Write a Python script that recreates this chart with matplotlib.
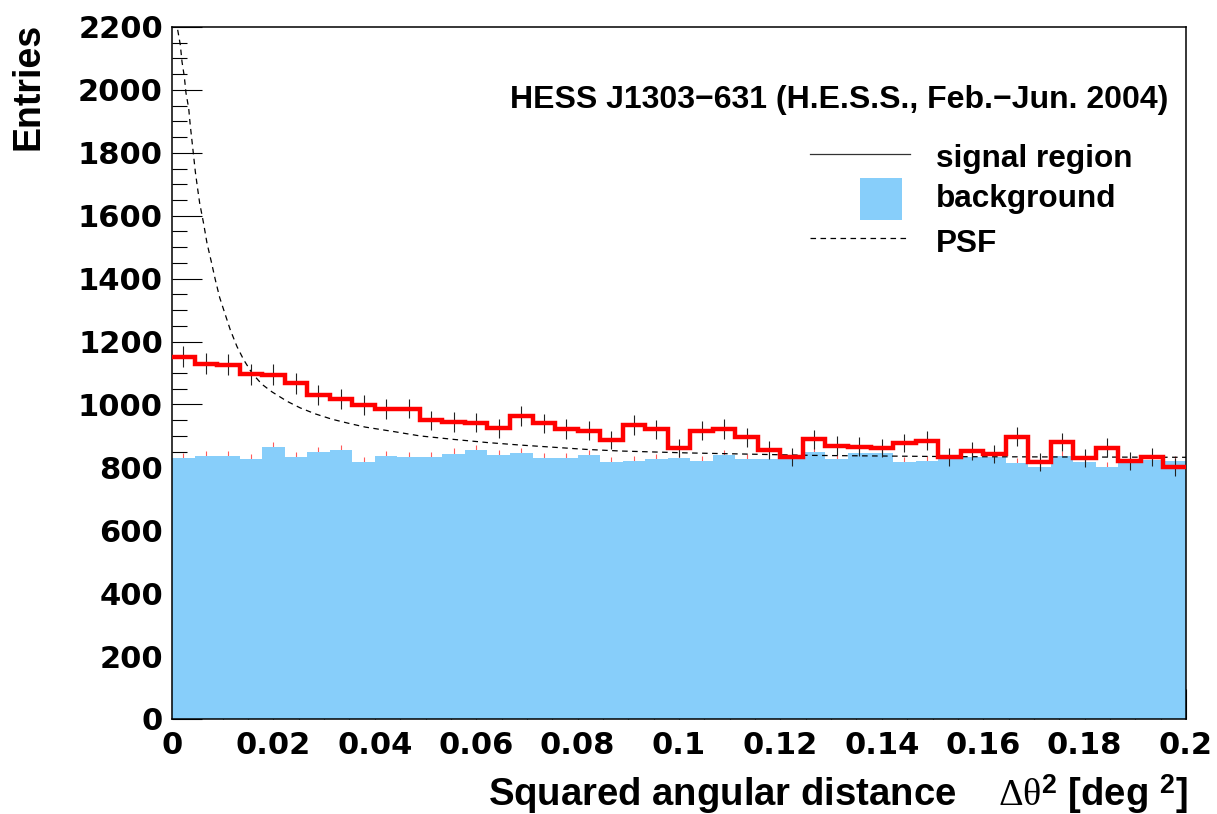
import numpy as np
import matplotlib
matplotlib.use("Agg")
import matplotlib.pyplot as plt
from matplotlib.patches import Rectangle
from matplotlib.lines import Line2D
from matplotlib.ticker import MultipleLocator, FixedLocator

# ---------------- data ----------------
x_min, x_max = 0.0, 0.2
n_bins = 45

signal = [1152, 1129, 1127, 1096, 1095, 1067, 1030, 1018, 998, 985,
          987, 949, 944, 942, 924, 964, 940, 922, 916, 887,
          935, 921, 861, 917, 922, 896, 855, 832, 889, 869,
          866, 861, 877, 885, 834, 852, 843, 898, 818, 881,
          829, 863, 821, 832, 800]

background = [831, 836, 836, 827, 865, 833, 849, 855, 816, 837,
              834, 834, 844, 855, 840, 845, 831, 831, 840, 817,
              819, 828, 829, 821, 839, 827, 826, 832, 850, 827,
              845, 845, 818, 821, 827, 832, 834, 815, 800, 837,
              818, 802, 818, 823, 821]
bkg_alpha = 0.31  # background normalisation (sets error size)

psf_x = [0.00112, 0.00164, 0.00197, 0.00243, 0.00276, 0.00329, 0.00361, 0.00394,
         0.00428, 0.0046, 0.00507, 0.00546, 0.00625, 0.0069, 0.00775, 0.00855,
         0.0094, 0.01052, 0.0115, 0.01282, 0.01414, 0.0158, 0.01775, 0.01972,
         0.0227, 0.0253, 0.02827, 0.03156, 0.03485, 0.03813, 0.04366, 0.0489,
         0.0555, 0.0621, 0.0686, 0.0752, 0.0818, 0.0884, 0.0949, 0.1015,
         0.1265, 0.155, 0.2]
psf_y = [2191, 2143, 2090, 2042, 1990, 1942, 1886, 1838,
         1788, 1740, 1684, 1640, 1574, 1513, 1454, 1396,
         1340, 1285, 1237, 1184, 1142, 1099, 1064, 1040,
         1010, 989, 970, 953, 940, 928, 914, 900,
         889, 879, 871, 864, 857, 852, 849, 846,
         838, 834, 832]

xtick_values = [0.0, 0.02, 0.04, 0.06, 0.08, 0.1, 0.12, 0.14, 0.16, 0.18, 0.2]
xtick_labels = ["0", "0.02", "0.04", "0.06", "0.08", "0.1", "0.12", "0.14",
                "0.16", "0.18", "0.2"]
ytick_values = [0, 200, 400, 600, 800, 1000, 1200, 1400, 1600, 1800, 2000, 2200]

title_text = "HESS J1303\u2212631 (H.E.S.S., Feb.\u2212Jun. 2004)"
legend_labels = ["signal region", "background", "PSF"]

# ---------------- style ----------------
plt.rcParams["font.family"] = ["Liberation Sans", "DejaVu Sans"]
plt.rcParams["font.weight"] = "bold"
plt.rcParams["mathtext.fontset"] = "custom"
plt.rcParams["mathtext.rm"] = "Liberation Serif:normal"
plt.rcParams["mathtext.it"] = "Liberation Serif:italic"
plt.rcParams["mathtext.bf"] = "Liberation Sans:bold"
plt.rcParams["lines.scale_dashes"] = False

W, H = 1217, 814
fig = plt.figure(figsize=(W / 100, H / 100), dpi=100)
ax_l, ax_r, ax_t, ax_b = 172, 1186, 27, 719
ax = fig.add_axes([ax_l / W, 1 - ax_b / H, (ax_r - ax_l) / W, (ax_b - ax_t) / H])

edges = np.linspace(x_min, x_max, n_bins + 1)
centers = 0.5 * (edges[:-1] + edges[1:])
sig = np.array(signal, dtype=float)
bkg = np.array(background, dtype=float)

blue = "#87cefa"
psf_dash = (4.0, 3.2)

# background errors (mostly hidden by fill)
ax.errorbar(centers, bkg, yerr=np.sqrt(bkg * bkg_alpha), fmt="none",
            ecolor="#ff5a5a", elinewidth=0.8, zorder=0.8)
ax.stairs(bkg, edges, fill=True, color=blue, linewidth=0, zorder=1)

# PSF
ax.plot(psf_x, psf_y, color="black", lw=0.9, dashes=psf_dash, zorder=2)

# signal
ax.errorbar(centers, sig, yerr=np.sqrt(sig), fmt="none", ecolor="#222222",
            elinewidth=0.8, zorder=3)
ax.stairs(sig, edges, color="red", linewidth=3.2, baseline=None, zorder=4)

ax.set_xlim(x_min, x_max)
ax.set_ylim(0, 2200)
ax.set_axisbelow(True)

ax.xaxis.set_major_locator(FixedLocator(xtick_values))
ax.set_xticklabels(xtick_labels)
ax.xaxis.set_minor_locator(MultipleLocator(0.005))
ax.yaxis.set_major_locator(FixedLocator(ytick_values))
ax.set_yticklabels([str(v) for v in ytick_values])
ax.yaxis.set_minor_locator(MultipleLocator(50))

ax.tick_params(which="both", direction="in", top=False, right=False, color="black")
ax.tick_params(axis="y", which="major", length=21.6, width=0.8, pad=6.5)
ax.tick_params(axis="y", which="minor", length=10.8, width=0.8)
ax.tick_params(axis="x", which="major", length=21.6, width=0.8, pad=9)
ax.tick_params(axis="x", which="minor", length=10.8, width=0.8)
for lab in ax.get_xticklabels() + ax.get_yticklabels():
    lab.set_fontfamily("DejaVu Sans")
    lab.set_fontweight("bold")
    lab.set_fontsize(22)

for sp in ax.spines.values():
    sp.set_linewidth(1.1)
    sp.set_color("black")

# title
fig.text(1168 / W, 1 - 108 / H, title_text, ha="right", va="baseline",
         fontsize=23, fontweight="bold")

# legend (manual, axes coordinates)
def ax_x(px):
    return (px - ax_l) / (ax_r - ax_l)

def ax_y(py):
    return (ax_b - py) / (ax_b - ax_t)

ax.add_line(Line2D([ax_x(810), ax_x(910)], [ax_y(154), ax_y(154)], color="#333333",
                   lw=0.9, transform=ax.transAxes, clip_on=False, zorder=5))
ax.add_patch(Rectangle((ax_x(860), ax_y(220)), ax_x(902) - ax_x(860), ax_y(178) - ax_y(220),
                       facecolor=blue, edgecolor="none", transform=ax.transAxes,
                       clip_on=False, zorder=5))
ax.add_line(Line2D([ax_x(810), ax_x(910)], [ax_y(238), ax_y(238)], color="black",
                   lw=0.9, dashes=psf_dash, transform=ax.transAxes, clip_on=False, zorder=5))
for lab, py in zip(legend_labels, [166.7, 206.7, 251.7]):
    ax.text(ax_x(936), ax_y(py), lab, ha="left", va="baseline", fontsize=22.7,
            fontweight="bold", transform=ax.transAxes, zorder=5)

# axis titles
fig.text(29 / W, 1 - 23 / H, "Entries", rotation=90, ha="center", va="top",
         fontsize=27, fontweight="bold")
fig.text(1188 / W, 1 - 806 / H,
         r"Squared angular distance    $\mathrm{\Delta\theta}^{\mathbf{2}}$ [deg ${}^{\mathbf{2}}$]",
         ha="right", va="baseline", fontsize=27.5, fontweight="bold")

fig.savefig("out.png", dpi=100)
